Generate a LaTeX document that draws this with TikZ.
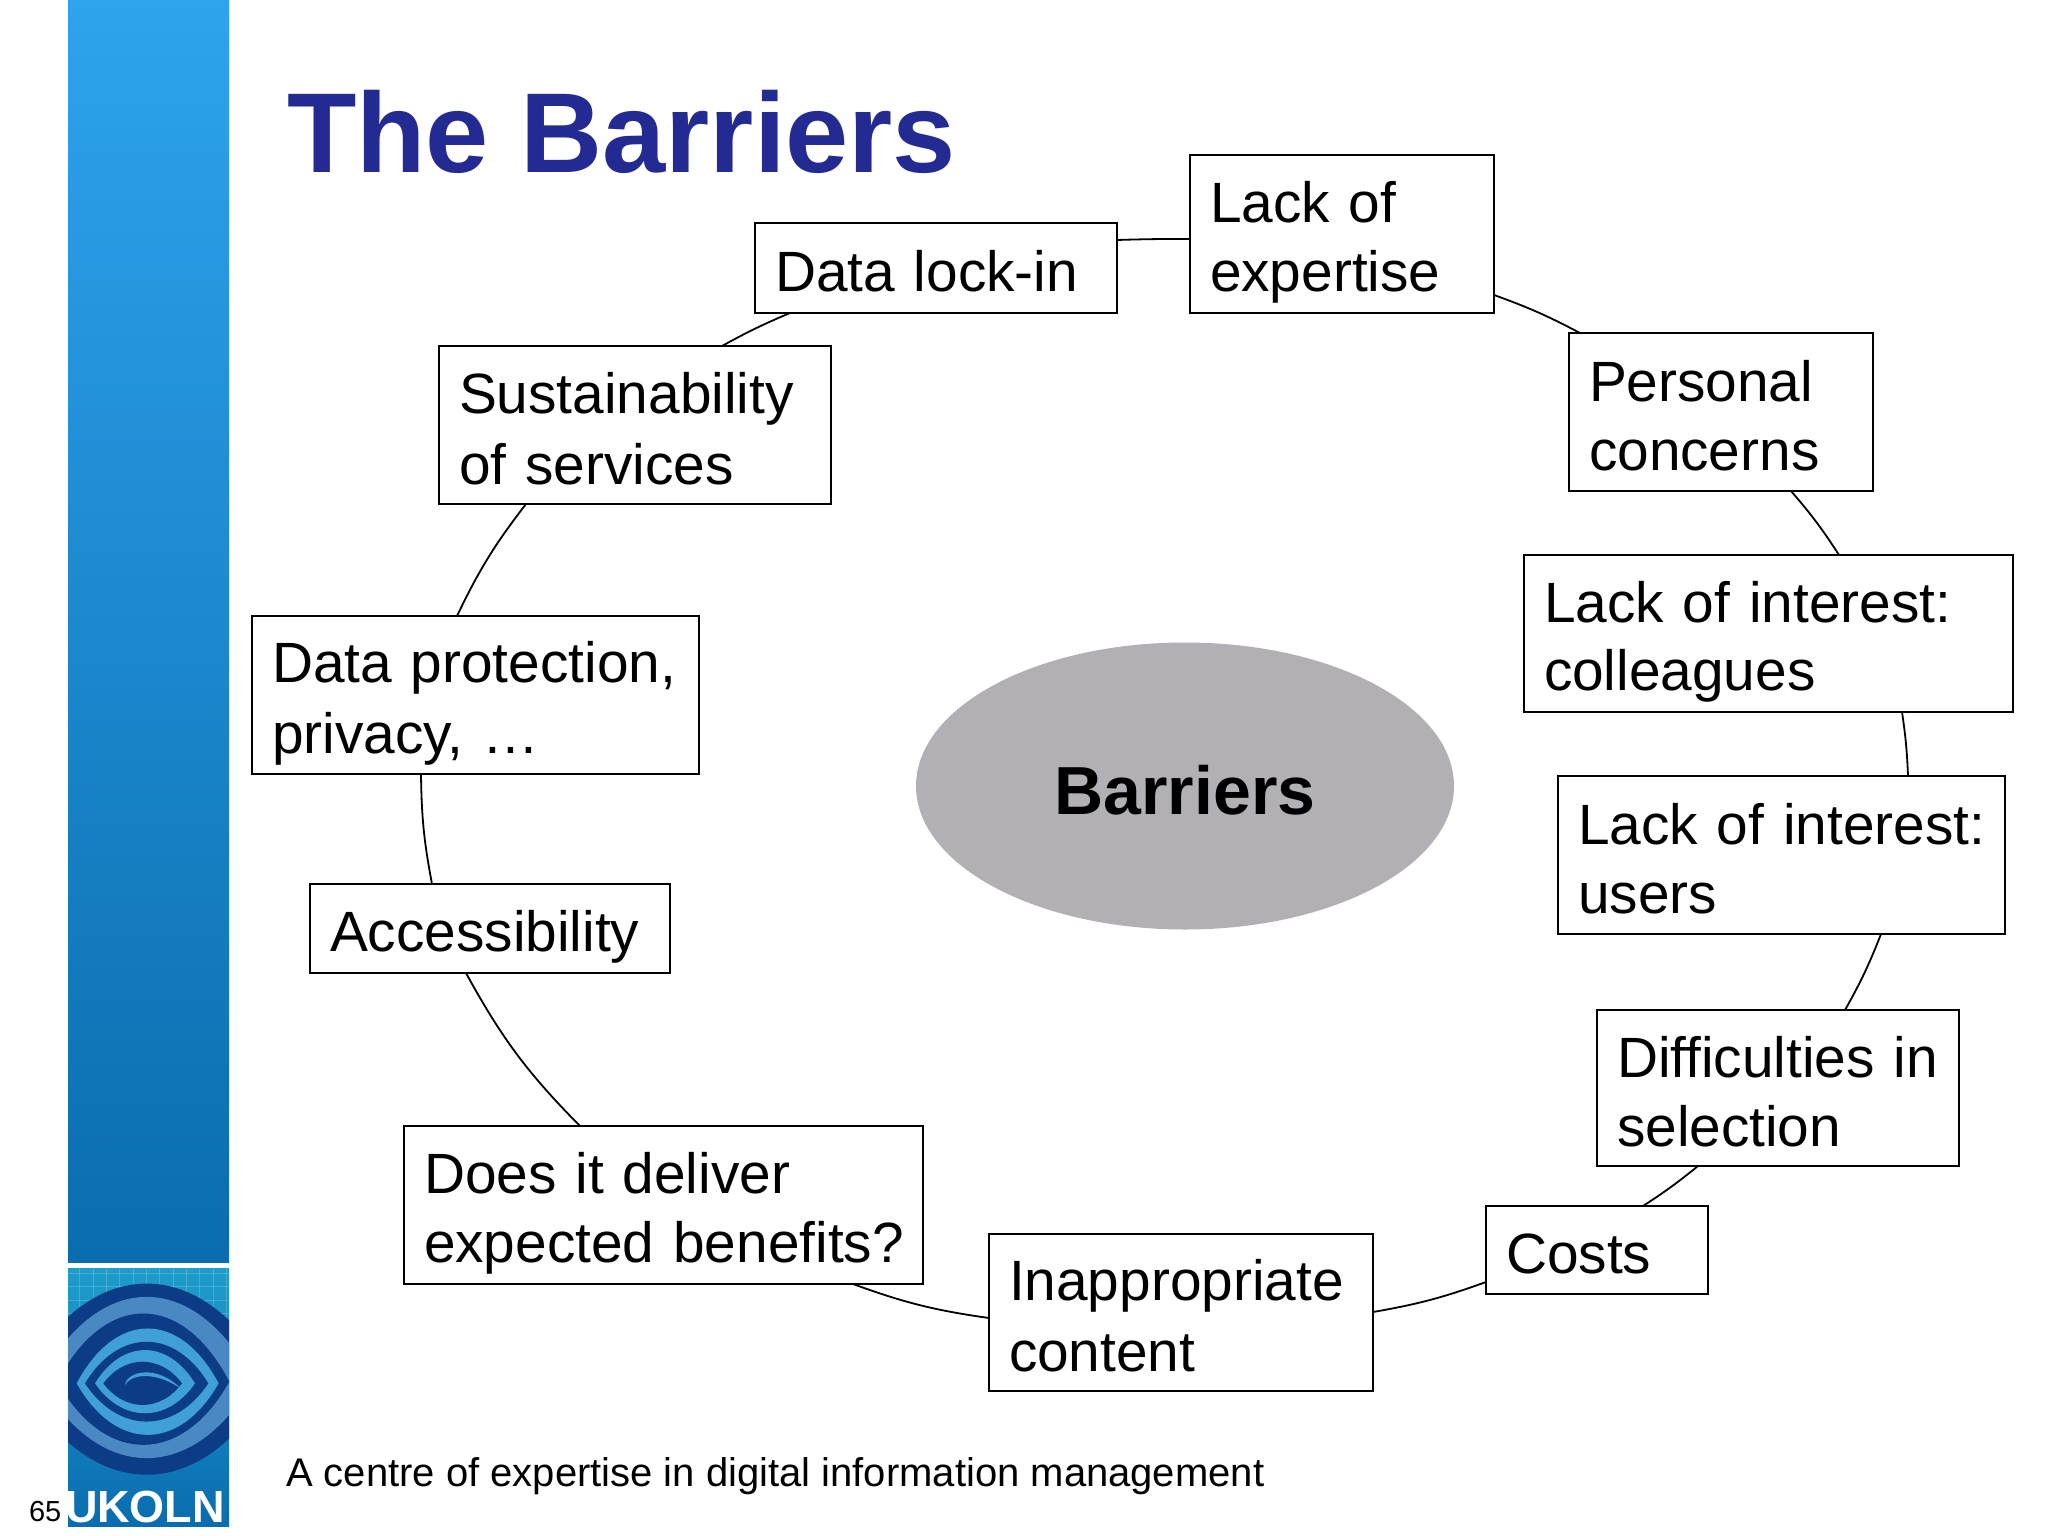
\documentclass[tikz,border=0pt]{standalone}
\usepackage{fontspec}
\setmainfont{Liberation Sans}
\usetikzlibrary{calc,shapes.geometric}
\definecolor{titleblue}{HTML}{232B92}
\definecolor{ellgray}{HTML}{B2B0B4}
\definecolor{logodark}{HTML}{0B3C85}
\definecolor{logomid}{HTML}{4A88C4}
\definecolor{logolight}{HTML}{3FA0D8}
\definecolor{bartop}{HTML}{2EA3EE}
\definecolor{barbot}{HTML}{0A6DAD}
\definecolor{logotop}{HTML}{1E9CCB}
\definecolor{logobot}{HTML}{0A6CB0}
\newcommand{\st}{\vrule width 0pt height 58pt depth 10.6pt\relax}
\newcommand{\lens}[6]{\fill[#1] ({#2-#4},#3) .. controls ({#2-#4*0.45},{#3-#5*1.33}) and ({#2+#4*0.45},{#3-#5*1.33}) .. ({#2+#4},#3) .. controls ({#2+#4*0.45},{#3+#6*1.33}) and ({#2-#4*0.45},{#3+#6*1.33}) .. ({#2-#4},#3) -- cycle;}
\tikzset{
  barrier/.style={draw=black,line width=2.3pt,fill=white,anchor=north west,inner xsep=20pt,inner ysep=0pt,outer sep=0pt,align=left,font=\fontsize{56.8}{68.6}\selectfont},
  link/.style={draw=black,line width=1.8pt},
  plain/.style={inner sep=0pt,outer sep=0pt,anchor=base west}
}
\begin{document}
\begin{tikzpicture}[x=1pt,y=-1pt]
\useasboundingbox (0,0) rectangle (2048,1536);
\fill[white] (0,0) rectangle (2048,1536);
% sidebar
\shade[top color=bartop,bottom color=barbot] (68,0) rectangle (229,1262);
% logo
\begin{scope}
\clip (68,1268) rectangle (229,1526);
\shade[top color=logotop,bottom color=logobot] (68,1268) rectangle (229,1526);
\begin{scope}[shift={(0,1230)},x=0.3333pt,y=-0.3333pt]
\foreach \gx in {240,280,...,680}{\draw[white,opacity=0.18,line width=1pt] (\gx,113) -- (\gx,300);}
\foreach \gy in {130,170,...,290}{\draw[white,opacity=0.18,line width=1pt] (204,\gy) -- (687,\gy);}
\lens{logodark}{440}{450}{380}{290}{285}
\lens{logomid}{440}{450}{320}{250}{235}
\lens{logodark}{430}{455}{258}{205}{190}
\lens{logolight}{443}{460}{213}{165}{155}
\lens{logodark}{440}{460}{185}{125}{115}
\lens{logolight}{435}{460}{150}{100}{90}
\lens{logodark}{428}{460}{118}{65}{65}
\fill[logolight] (375,465) .. controls (380,425) and (470,400) .. (545,478) .. controls (480,430) and (400,425) .. (375,465) -- cycle;
\end{scope}
\end{scope}
\node[plain,text=white,font=\bfseries\fontsize{45}{45}\selectfont] (ukoln) at (65,1522) {UKOLN};
\node[plain,text=black,font=\fontsize{29}{29}\selectfont] (pagenum) at (29,1521) {65};
% title and footer
\node[plain,text=titleblue,font=\bfseries\fontsize{113.6}{113.6}\selectfont] (title) at (287,172) {The Barriers};
\node[plain,text=black,font=\fontsize{40}{40}\selectfont] (footer) at (286,1486) {A centre of expertise in digital information management};
% centre
\node[ellipse,fill=ellgray,minimum width=538pt,minimum height=287pt,inner sep=0pt] (centre) at (1185,786) {};
\node[text=black,font=\bfseries\fontsize{68}{68}\selectfont,inner sep=0pt] (centrelabel) at (1185,790) {Barriers};
% boxes
\node[barrier,text width=322pt,minimum height=90pt] (lockin) at (755,223) {\st Data lock-in};
\node[barrier,text width=264pt,minimum height=158pt] (expertise) at (1190,155) {\st Lack of\\\st expertise};
\node[barrier,text width=264pt,minimum height=158pt] (personal) at (1569,333) {\st Personal\\\st concerns};
\node[barrier,text width=449pt,minimum height=157pt] (colleagues) at (1524,555) {\st \mbox{Lack of interest:}\\\st colleagues};
\node[barrier,text width=407pt,minimum height=158pt] (users) at (1558,776) {\st \mbox{Lack of interest:}\\\st users};
\node[barrier,text width=322pt,minimum height=156pt] (selection) at (1597,1010) {\st \mbox{Difficulties in}\\\st selection};
\node[barrier,text width=182pt,minimum height=88pt] (costs) at (1486,1206) {\st Costs};
\node[barrier,text width=344pt,minimum height=157pt] (content) at (989,1234) {\st \mbox{Inappropriate}\\\st content};
\node[barrier,text width=479pt,minimum height=158pt] (benefits) at (404,1126) {\st Does it deliver\\\st \mbox{expected benefits?}};
\node[barrier,text width=320pt,minimum height=89pt] (access) at (310,884) {\st \mbox{Accessibility}};
\node[barrier,text width=407pt,minimum height=158pt] (privacy) at (252,616) {\st \mbox{Data protection,}\\\st privacy, …};
\node[barrier,text width=352pt,minimum height=158pt] (sustain) at (439,346) {\st \mbox{Sustainability}\\\st of services};
% connectors
\draw[link] ($(lockin.north east)+(0,17)$) to[bend left=1] ($(expertise.north west)+(0,84)$);
\draw[link] ($(expertise.north east)+(0,140)$) to[bend left=4] ($(personal.north west)+(11,0)$);
\draw[link] ($(personal.south west)+(222,0)$) to[bend left=4] ($(colleagues.north west)+(315,0)$);
\draw[link] ($(colleagues.south west)+(378,0)$) to[bend left=3] ($(users.north west)+(350,0)$);
\draw[link] ($(users.south west)+(323,0)$) to[bend left=4] ($(selection.north west)+(248,0)$);
\draw[link] ($(selection.south west)+(101,0)$) to[bend left=3] ($(costs.north west)+(157,0)$);
\draw[link] ($(costs.north west)+(0,76)$) to[bend left=5] ($(content.north east)+(0,78)$);
\draw[link] ($(content.north west)+(0,84)$) to[bend left=6] ($(benefits.south west)+(449,0)$);
\draw[link] ($(benefits.north west)+(176,0)$) to[bend left=8] ($(access.south west)+(156,0)$);
\draw[link] ($(access.north west)+(122,0)$) to[bend left=5] ($(privacy.south west)+(169,0)$);
\draw[link] ($(privacy.north west)+(205,0)$) to[bend left=6] ($(sustain.south west)+(87,0)$);
\draw[link] ($(sustain.north west)+(283,0)$) to[bend left=3] ($(lockin.south west)+(35,0)$);
\end{tikzpicture}
\end{document}
